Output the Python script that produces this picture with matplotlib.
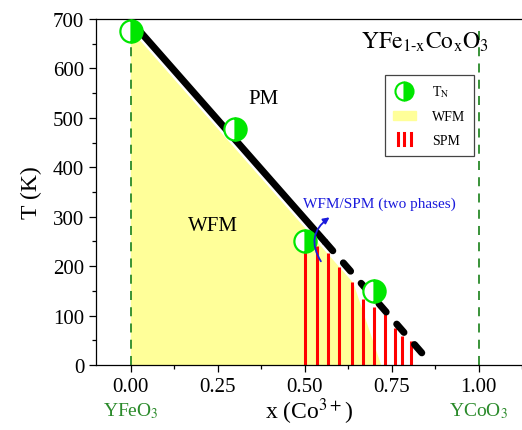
import matplotlib
matplotlib.use('Agg')
import matplotlib.pyplot as plt
from matplotlib.lines import Line2D
from matplotlib.patches import Patch
from matplotlib.legend_handler import HandlerBase

plt.rcParams['font.family'] = 'Liberation Serif'
plt.rcParams['mathtext.fontset'] = 'stix'

# Neel temperatures
tn_x = [0.0, 0.3, 0.5, 0.7]
tn_T = [675, 478, 250, 149]

# phase boundary line (solid part, then dashed extrapolation)
line_x = [0.0, 0.56, 0.84]
line_T = [696, 248, 22]

# weak ferromagnetic region outline
wfm_x = [0.0, 0.0, 0.64, 0.72]
wfm_T = [0, 678, 166, 0]

# superparamagnetic bars
spm_x = [0.50, 0.535, 0.567, 0.60, 0.636, 0.667, 0.698, 0.731, 0.759, 0.781, 0.805]
spm_T = [235, 240, 227, 198, 168, 134, 117, 103, 75, 59, 49]

green = '#2a8a2a'
yellow = '#ffff99'
tn_green = '#00e600'


class ThreeBars(HandlerBase):
    def create_artists(self, legend, orig_handle, xd, yd, width, height, fontsize, trans):
        arts = []
        for f in (0.2, 0.5, 0.8):
            arts.append(Line2D([xd + f * width, xd + f * width], [yd - 0.1 * height, yd + height * 1.2],
                               color='red', lw=2.2, transform=trans))
        return arts


fig = plt.figure(figsize=(5.22, 4.31), dpi=100)
ax = fig.add_axes([96 / 522, 65 / 431, 1 - 96 / 522, 346 / 431])

ax.fill(wfm_x, wfm_T, color=yellow, lw=0, zorder=1)
ax.vlines(spm_x, 0, spm_T, color='red', lw=2.2, zorder=2)

ax.plot(line_x[:2], line_T[:2], color='black', lw=5, solid_capstyle='butt', zorder=3)
ax.plot(line_x[1:], line_T[1:], color='black', lw=5, dashes=(1.6, 2.3),
        dash_capstyle='round', zorder=3)

ax.plot([0, 0], [0, 660], color=green, lw=1.3, dashes=(5, 4), zorder=2)
ax.plot([1, 1], [0, 690], color=green, lw=1.3, dashes=(5, 4), zorder=2)

ax.plot(tn_x, tn_T, ls='none', marker='o', ms=16, fillstyle='right',
        markerfacecolor=tn_green, markerfacecoloralt='white',
        markeredgecolor=tn_green, mew=1.6, zorder=5)

ax.text(0.382, 540, 'PM', fontsize=15, ha='center', va='center')
ax.text(0.235, 283, 'WFM', fontsize=15, ha='center', va='center')
ax.text(0.845, 655, r'$\mathrm{YFe_{1\text{-}x}Co_xO_3}$', fontsize=17, ha='center', va='center')
ax.text(0.715, 328, 'WFM/SPM (two phases)', fontsize=11, color='#1a1adc',
        ha='center', va='center')
ax.annotate('', xy=(0.578, 302), xytext=(0.551, 205),
            arrowprops=dict(arrowstyle='-|>', color='#1a1adc', lw=1.3,
                            mutation_scale=9,
                            connectionstyle='arc3,rad=-0.5'), zorder=6)

handles = [Line2D([], [], ls='none', marker='o', ms=13, fillstyle='right',
                  markerfacecolor=tn_green, markerfacecoloralt='white',
                  markeredgecolor=tn_green, mew=1.5),
           Patch(color=yellow),
           Patch(color='red')]
leg = ax.legend(handles, [r'T$_\mathrm{N}$', 'WFM', 'SPM'], loc='upper left',
                bbox_to_anchor=(0.662, 0.858), fontsize=10, fancybox=False,
                edgecolor='#444444', framealpha=1, handlelength=1.6,
                labelspacing=0.8, handletextpad=1.2, borderpad=0.6,
                handler_map={handles[2]: ThreeBars()})
leg.get_frame().set_linewidth(0.9)

ax.set_xlim(-0.1, 1.095)
ax.set_ylim(0, 700)
ax.set_xticks([0, 0.25, 0.5, 0.75, 1.0])
ax.set_xticklabels(['0.00', '0.25', '0.50', '0.75', '1.00'])
ax.set_xticks([0.125, 0.375, 0.625, 0.875, 1.125], minor=True)
ax.set_yticks(range(0, 701, 100))
ax.set_yticks(range(50, 700, 100), minor=True)
ax.tick_params(which='major', length=5, width=0.9, labelsize=15, direction='out')
ax.tick_params(which='minor', length=3, width=0.9, direction='out')
ax.spines['right'].set_visible(False)
for s in ('left', 'bottom', 'top'):
    ax.spines[s].set_linewidth(0.9)

ax.set_ylabel('T (K)', fontsize=17, labelpad=8)
xl = ax.set_xlabel(r'x (Co$^{3+}$)', fontsize=17)
xl.set_va('baseline')
ax.xaxis.set_label_coords(0.5, -0.155)

ax.text(0.0, -0.13, r'YFeO$_3$', transform=ax.get_xaxis_transform(),
        color=green, fontsize=14, ha='center', va='center')
ax.text(1.0, -0.13, r'YCoO$_3$', transform=ax.get_xaxis_transform(),
        color=green, fontsize=14, ha='center', va='center')

fig.savefig('out.png', dpi=100)
